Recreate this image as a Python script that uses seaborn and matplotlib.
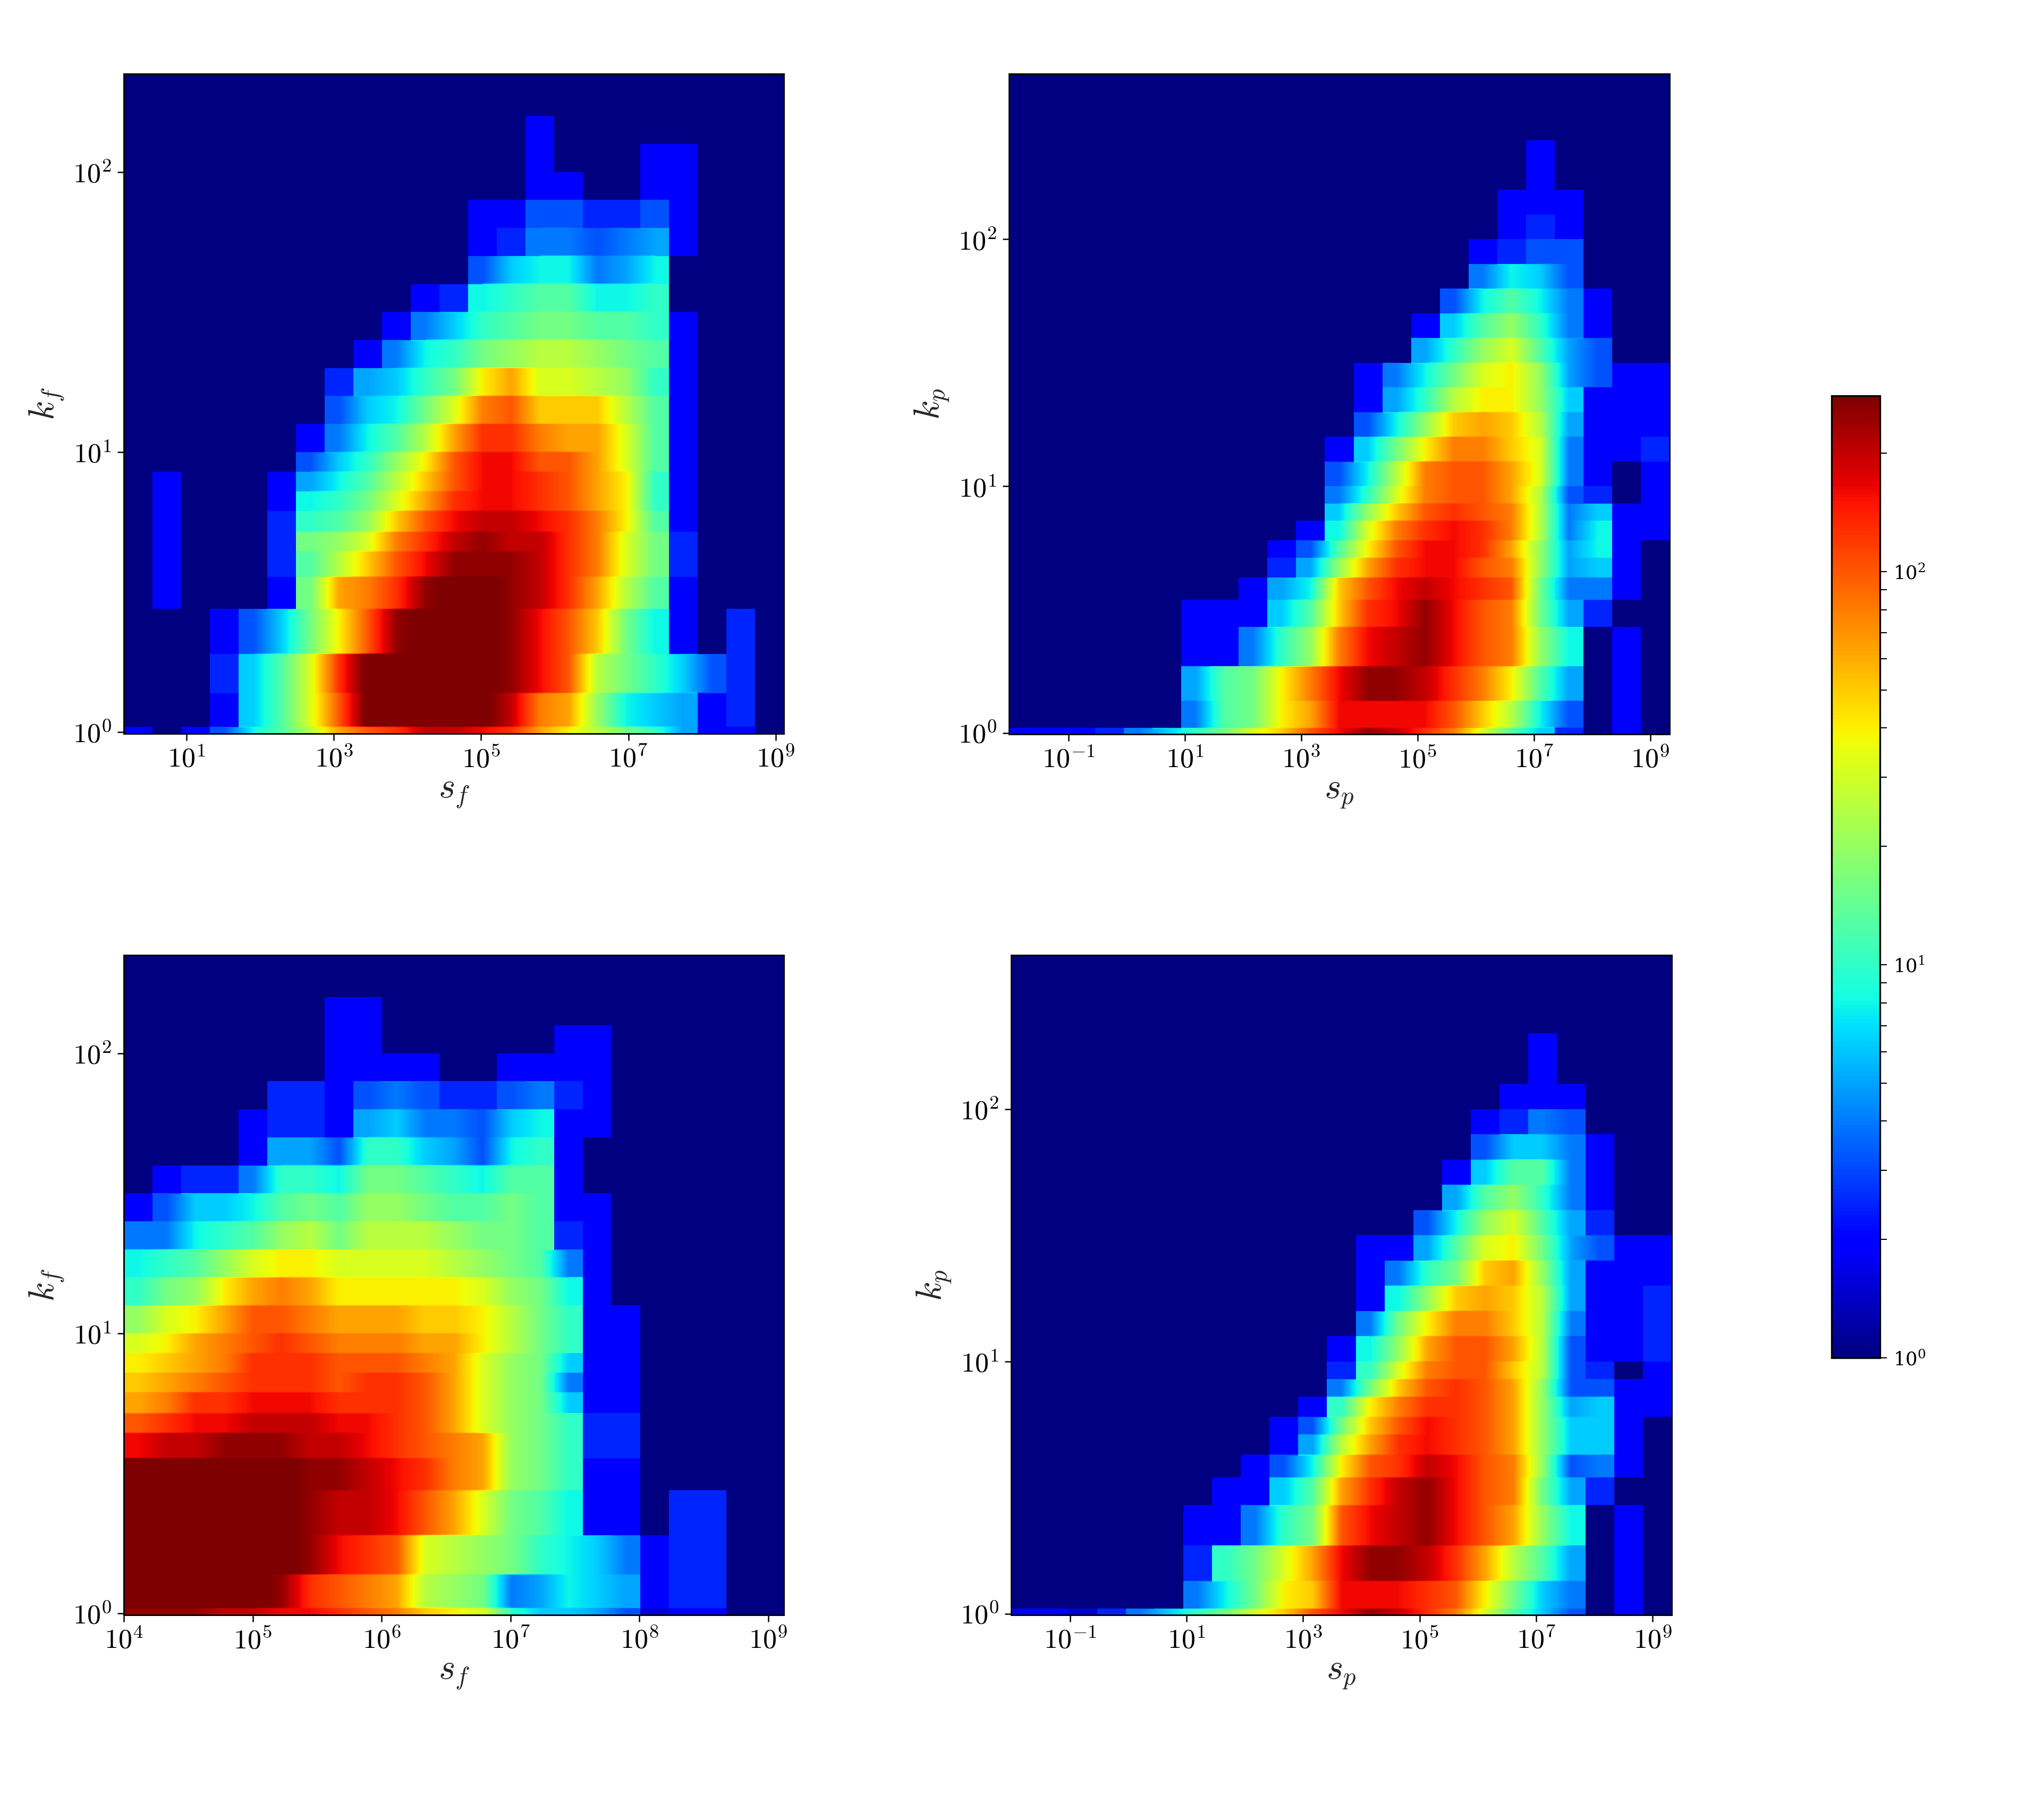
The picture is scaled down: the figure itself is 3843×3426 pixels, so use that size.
import numpy as np
import seaborn as sns
import matplotlib
matplotlib.use("Agg")
import matplotlib.pyplot as plt
from matplotlib.colors import LogNorm

# Cell values: ten times log10(count), rows from top to bottom, written as
# (first occupied column, values); every other cell is empty.
N_COLS = 23
F_EDGES = [2.35, 2.2, 2.1, 2.0, 1.9, 1.8, 1.7, 1.6, 1.5, 1.4, 1.3, 1.2, 1.1, 1.0,
           .93, .86, .79, .715, .645, .555, .44, .28, .14, .02, -.005]
P_EDGES_A = [2.67, 2.4, 2.3, 2.2, 2.1, 2.0, 1.9, 1.8, 1.7, 1.6, 1.5, 1.4, 1.3, 1.2, 1.1, 1.0,
             .93, .86, .78, .71, .63, .54, .43, .27, .13, .02, -.005]
P_EDGES_B = [2.61] + P_EDGES_A[1:]

TOP_LEFT = [
    (0, []), (14, [3]), (14, [3, 0, 0, 0, 3, 3]), (14, [3, 3, 0, 0, 3, 3]),
    (12, [3, 3, 5, 5, 4, 4, 5, 3]),
    (12, [3, 4, 6, 6, 5, 6, 7, 3]),
    (12, [5, 8, 9, 9, 6, 7, 9]),
    (10, [3, 4, 9, 10, 11, 11, 9, 9, 10]),
    (9, [3, 6, 8, 10, 11, 12, 12, 11, 11, 10, 3]),
    (8, [3, 6, 9, 10, 12, 13, 14, 14, 13, 12, 11, 3]),
    (7, [4, 7, 8, 10, 12, 16, 18, 15, 15, 14, 13, 10, 3]),
    (7, [5, 8, 9, 12, 15, 19, 20, 17, 17, 17, 14, 11, 3]),
    (6, [3, 6, 9, 11, 14, 18, 21, 21, 19, 18, 18, 15, 11, 3]),
    (6, [5, 8, 10, 13, 16, 20, 22, 22, 20, 20, 18, 15, 11, 3]),
    (1, [3, 0, 0, 0, 3, 7, 9, 11, 14, 17, 20, 22, 22, 21, 20, 18, 16, 10, 3]),
    (1, [3, 0, 0, 0, 3, 9, 10, 12, 15, 18, 21, 22, 22, 21, 20, 18, 16, 10, 3]),
    (1, [3, 0, 0, 0, 4, 10, 11, 13, 17, 20, 22, 23, 23, 22, 21, 19, 16, 11, 3]),
    (1, [3, 0, 0, 0, 4, 12, 13, 15, 19, 21, 23, 24, 23, 23, 21, 19, 15, 12, 4]),
    (1, [3, 0, 0, 0, 4, 11, 14, 17, 20, 22, 24, 24, 24, 23, 21, 19, 15, 12, 4]),
    (1, [3, 0, 0, 0, 3, 12, 18, 19, 21, 24, 25, 25, 24, 23, 21, 18, 14, 11, 3]),
    (3, [3, 5, 8, 12, 16, 20, 24, 25, 25, 25, 24, 22, 20, 17, 12, 9, 3, 0, 4]),
    (3, [4, 8, 11, 15, 21, 25, 25, 25, 25, 25, 24, 22, 20, 14, 12, 10, 8, 5, 4]),
    (3, [3, 8, 11, 15, 20, 25, 25, 25, 25, 25, 23, 19, 18, 13, 9, 8, 7, 3, 4]),
    (0, [3, 0, 3, 5, 9, 11, 14, 18, 20, 21, 23, 23, 22, 21, 18, 16, 14, 12, 10, 7, 3, 3]),
]
TOP_RIGHT = [
    (0, []), (18, [3]), (18, [3]), (17, [3, 3, 3]), (17, [3, 4, 3]),
    (16, [3, 4, 5, 5]),
    (16, [6, 9, 8, 5]),
    (15, [5, 9, 11, 9, 6, 3]),
    (14, [3, 8, 11, 13, 10, 6, 3]),
    (14, [7, 10, 13, 15, 11, 7, 5]),
    (12, [3, 6, 9, 12, 15, 16, 13, 7, 5, 3, 3]),
    (12, [3, 7, 10, 14, 16, 16, 13, 8, 3, 3, 3]),
    (12, [5, 9, 13, 17, 18, 17, 14, 7, 3, 3, 3]),
    (11, [3, 8, 12, 16, 19, 19, 17, 15, 6, 3, 3, 4]),
    (11, [5, 9, 14, 19, 20, 20, 18, 15, 6, 3, 0, 3]),
    (11, [6, 10, 15, 19, 20, 20, 18, 14, 5, 4, 0, 3]),
    (11, [8, 13, 17, 20, 21, 20, 19, 14, 6, 8, 3, 3]),
    (10, [3, 9, 15, 19, 21, 22, 21, 19, 14, 6, 9, 3, 3]),
    (9, [3, 5, 11, 16, 20, 22, 22, 21, 18, 13, 7, 9, 3]),
    (9, [4, 7, 13, 18, 21, 22, 22, 20, 19, 13, 7, 8, 3]),
    (8, [3, 7, 9, 17, 20, 22, 23, 22, 21, 20, 12, 6, 6, 3]),
    (6, [3, 3, 3, 8, 11, 17, 21, 22, 24, 22, 20, 19, 12, 7, 4]),
    (6, [3, 3, 6, 10, 13, 19, 22, 23, 24, 22, 20, 19, 13, 9, 0, 3]),
    (6, [7, 11, 12, 16, 19, 22, 24, 24, 23, 21, 19, 16, 11, 7, 0, 3]),
    (6, [6, 11, 12, 16, 18, 22, 22, 22, 22, 20, 17, 14, 9, 5, 0, 3]),
    (0, [3, 3, 3, 4, 6, 8, 10, 12, 15, 17, 20, 22, 24, 23, 21, 19, 15, 11, 8, 4, 0, 3]),
]
BOTTOM_LEFT = [
    (0, []), (7, [3, 3]), (7, [3, 3, 0, 0, 0, 0, 0, 0, 3, 3]),
    (7, [3, 3, 3, 3, 0, 0, 3, 3, 3, 3]),
    (5, [4, 4, 3, 5, 6, 5, 4, 4, 5, 6, 4, 3]),
    (4, [3, 4, 4, 3, 7, 8, 6, 6, 5, 8, 9, 3, 3]),
    (4, [3, 7, 7, 5, 10, 10, 8, 7, 5, 9, 10, 3]),
    (1, [3, 4, 4, 6, 10, 10, 9, 12, 12, 11, 10, 9, 11, 11, 3]),
    (0, [3, 5, 8, 8, 9, 11, 12, 11, 13, 13, 12, 11, 11, 12, 11, 3, 3]),
    (0, [6, 6, 9, 10, 11, 13, 14, 12, 14, 14, 14, 13, 12, 12, 11, 4, 3]),
    (0, [9, 10, 11, 13, 15, 16, 16, 15, 15, 15, 15, 14, 13, 12, 11, 6, 3]),
    (0, [10, 12, 13, 16, 18, 19, 18, 16, 16, 16, 16, 16, 15, 13, 12, 9, 3]),
    (0, [13, 15, 16, 18, 20, 20, 19, 18, 18, 18, 17, 17, 16, 14, 12, 10, 3, 3]),
    (0, [15, 16, 18, 19, 20, 21, 20, 19, 19, 19, 18, 18, 16, 14, 12, 10, 3, 3]),
    (0, [16, 17, 18, 19, 21, 21, 21, 20, 20, 20, 19, 18, 15, 13, 12, 8, 3, 3]),
    (0, [17, 18, 19, 20, 21, 21, 21, 20, 21, 21, 20, 18, 15, 13, 12, 6, 3, 3]),
    (0, [18, 19, 21, 21, 22, 22, 22, 21, 21, 21, 20, 18, 15, 13, 12, 8, 3, 3]),
    (0, [20, 21, 22, 22, 23, 23, 23, 22, 22, 21, 20, 18, 15, 13, 12, 10, 4, 4]),
    (0, [22, 23, 23, 24, 24, 24, 23, 23, 22, 21, 20, 19, 18, 13, 12, 10, 4, 4]),
    (0, [25, 25, 25, 25, 25, 25, 24, 24, 23, 22, 21, 19, 18, 13, 12, 10, 3, 3]),
    (0, [25, 25, 25, 25, 25, 25, 24, 23, 23, 22, 20, 18, 15, 12, 11, 9, 3, 3, 0, 4, 4]),
    (0, [25, 25, 25, 25, 25, 25, 24, 22, 21, 20, 15, 14, 13, 12, 10, 9, 8, 6, 3, 4, 4]),
    (0, [25, 25, 25, 25, 25, 24, 21, 20, 19, 18, 14, 13, 12, 6, 7, 9, 8, 7, 3, 4, 4]),
    (0, [24, 24, 24, 23, 23, 22, 22, 21, 20, 19, 17, 16, 15, 10, 8, 8, 7, 5, 2, 3, 3]),
]
BOTTOM_RIGHT = [
    (0, []), (0, []), (18, [3]), (18, [3]), (17, [3, 3, 3]),
    (16, [3, 4, 6, 5]),
    (16, [5, 8, 8, 6, 3]),
    (15, [3, 8, 11, 11, 6, 3]),
    (15, [7, 11, 13, 10, 6, 3]),
    (14, [5, 9, 13, 15, 11, 7, 4]),
    (12, [3, 3, 7, 11, 15, 16, 12, 7, 5, 3, 3]),
    (12, [3, 6, 10, 12, 17, 18, 13, 7, 3, 3, 3]),
    (12, [3, 9, 13, 17, 18, 17, 14, 7, 3, 3, 4]),
    (12, [6, 12, 16, 19, 19, 17, 14, 6, 3, 3, 4]),
    (11, [3, 9, 13, 18, 20, 20, 18, 14, 5, 3, 3, 4]),
    (11, [4, 10, 15, 19, 20, 20, 17, 14, 5, 4, 0, 3]),
    (11, [6, 12, 17, 20, 21, 20, 18, 13, 5, 5, 3, 3]),
    (10, [3, 10, 16, 19, 21, 21, 20, 18, 13, 7, 8, 3, 3]),
    (9, [3, 5, 12, 17, 20, 22, 21, 20, 18, 13, 8, 8, 3]),
    (9, [3, 7, 14, 18, 21, 22, 21, 20, 18, 13, 8, 8, 3]),
    (8, [3, 5, 9, 16, 20, 21, 23, 22, 20, 19, 13, 5, 6, 3]),
    (7, [3, 3, 8, 11, 18, 21, 23, 24, 22, 20, 19, 12, 7, 4]),
    (6, [3, 3, 6, 10, 12, 20, 22, 23, 24, 22, 20, 18, 13, 9, 0, 3]),
    (6, [4, 10, 12, 15, 18, 22, 24, 24, 23, 21, 18, 14, 11, 7, 0, 3]),
    (6, [6, 9, 12, 16, 17, 22, 22, 22, 21, 20, 16, 12, 8, 6, 0, 3]),
    (0, [3, 3, 2, 4, 6, 8, 10, 12, 15, 17, 20, 22, 24, 23, 21, 19, 15, 11, 8, 5, 0, 3]),
]

W, H = 3843, 3426
sns.set_style("ticks", {"axes.edgecolor": "black", "xtick.color": "black", "ytick.color": "black"})
plt.rcParams["font.family"] = ["DejaVu Serif"]
plt.rcParams["mathtext.fontset"] = "cm"

NORM_MAX = 280
STEP = 0.005
SHARP_BELOW = 0.5  # log10 count under which cells keep their crisp block edges


def expand(rows, edges):
    grid = []
    counts = []
    for (start, vals), top, bot in zip(rows, edges[:-1], edges[1:]):
        row = np.zeros(N_COLS)
        row[start:start + len(vals)] = vals
        grid.append(10 ** (row / 10))
        counts.append(int(round((top - bot) / STEP)))
    return np.repeat(np.array(grid), counts, axis=0), sum(counts)


def box(x0, x1, y0, y1):
    return [x0 / W, 1 - y1 / H, (x1 - x0) / W, (y1 - y0) / H]


PANELS = [
    (TOP_LEFT, F_EDGES, box(233, 1475, 139, 1381), (0.15, 9.11), [1, 3, 5, 7, 9], "s_f", "k_f"),
    (TOP_RIGHT, P_EDGES_A, box(1899, 3142, 139, 1382), (-2.02, 9.33), [-1, 1, 3, 5, 7, 9], "s_p", "k_p"),
    (BOTTOM_LEFT, F_EDGES, box(233, 1475, 1798, 3040), (4.0, 9.12), [4, 5, 6, 7, 8, 9], "s_f", "k_f"),
    (BOTTOM_RIGHT, P_EDGES_B, box(1903, 3146, 1798, 3040), (-2.01, 9.325), [-1, 1, 3, 5, 7, 9], "s_p", "k_p"),
]

fig = plt.figure(figsize=(W / 300, H / 300), dpi=300, facecolor="white")
cax = fig.add_axes(box(3447, 3538, 745, 2556))
cb = None

for i, (rows, edges, pos, (xmin, xmax), xdec, xl, yl) in enumerate(PANELS):
    ax = fig.add_axes(pos)
    grid, nrows = expand(rows, edges)
    sns.heatmap(grid, ax=ax, cmap="jet", norm=LogNorm(1, NORM_MAX), cbar=(i == 0),
                cbar_ax=cax if i == 0 else None, xticklabels=False, yticklabels=False,
                rasterized=True)
    if i == 0:
        cb = ax.collections[0].colorbar
    # The reference shows the same cells with smoothed rendering inside the dense region.
    logs = np.log10(grid)
    ax.imshow(np.ma.masked_less(logs, SHARP_BELOW), cmap="jet", vmin=0, vmax=np.log10(NORM_MAX),
              extent=(0, N_COLS, nrows, 0), aspect="auto", interpolation="bilinear",
              interpolation_stage="data", zorder=2)
    ax.set_xlim(0, N_COLS)
    ax.set_ylim(nrows, 0)
    for s in ax.spines.values():
        s.set_visible(True)
        s.set_linewidth(0.7)
        s.set_color("black")
    xt = [(d - xmin) / (xmax - xmin) * N_COLS for d in xdec]
    ax.set_xticks(xt, [rf"$10^{{{d}}}$" for d in xdec], rotation=0, fontsize=12.5)
    ydec = [0, 1, 2]
    yt = [(edges[0] - d) / STEP for d in ydec]
    ax.set_yticks(yt, [rf"$10^{{{d}}}$" for d in ydec], rotation=0, fontsize=12.5)
    ax.tick_params(axis="both", length=3, width=0.6, pad=2.5, bottom=True, left=True)
    ax.set_xlabel(rf"${xl}$", fontsize=16, labelpad=1)
    ax.set_ylabel(rf"${yl}$", fontsize=16, labelpad=3)

cb.outline.set_visible(True)
cb.outline.set_linewidth(0.8)
cb.outline.set_edgecolor("black")
cax.tick_params(which="both", length=3, width=0.5, labelsize=8.5, pad=3)

fig.savefig("out.png", dpi=300, facecolor="white")
